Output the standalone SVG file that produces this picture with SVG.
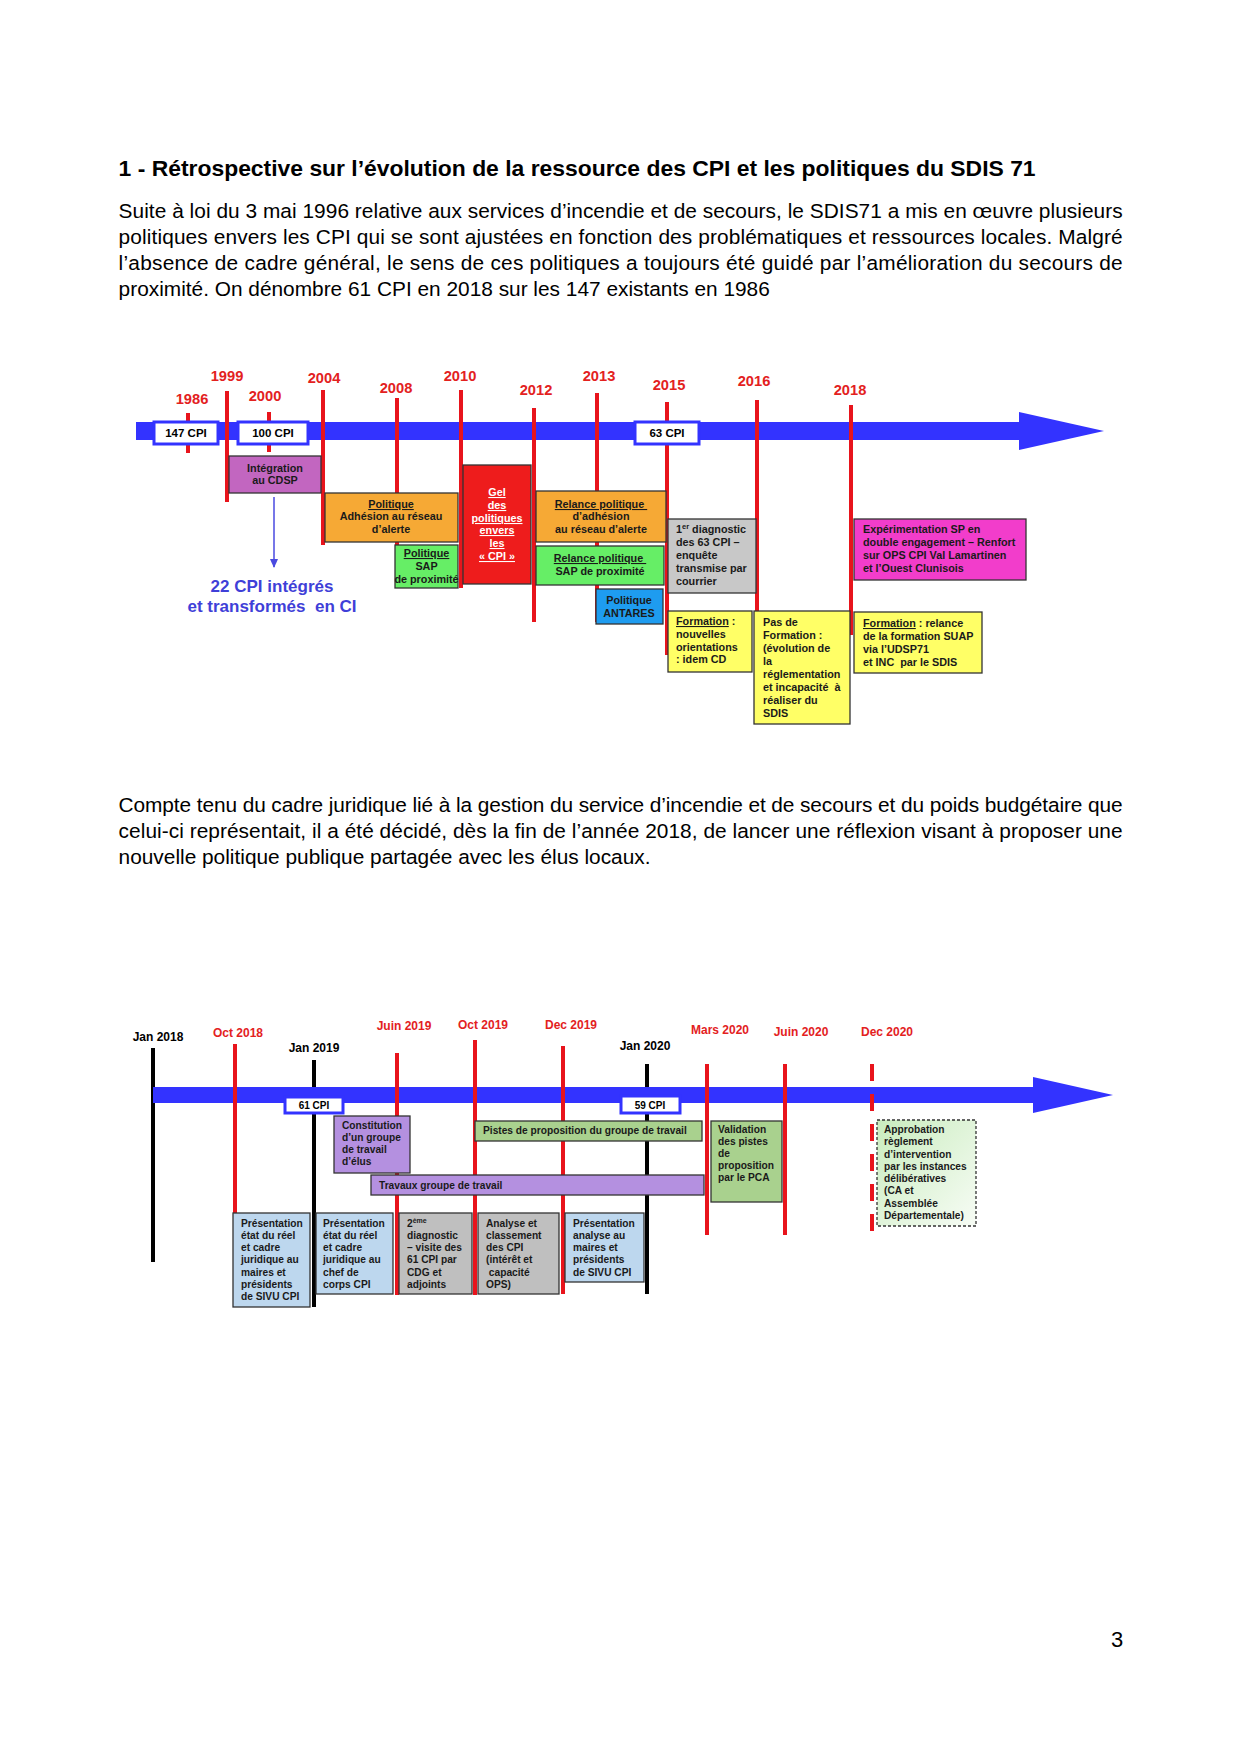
<svg xmlns="http://www.w3.org/2000/svg" width="1241" height="1754" viewBox="0 0 1241 1754">
<style>
text { font-family: "Liberation Sans", Arial, sans-serif; }
.title { font-size: 22.9px; font-weight: bold; fill: #000; }
.body { font-size: 20.85px; fill: #000; }
.yr { font-size: 14.7px; font-weight: bold; fill: #E3211E; text-anchor: middle; }
.bx { font-size: 10.8px; font-weight: bold; fill: #1a1a1a; }
.c { text-anchor: middle; }
.u { text-decoration: underline; }
.red { stroke: #E8141C; stroke-width: 4; fill: none; }
.blk { stroke: #000; stroke-width: 4; fill: none; }
.box { stroke: #333; stroke-width: 1.3; }
.cpi { fill: #fff; stroke: #3333FF; stroke-width: 3; }
.cpit { font-size: 11.5px; font-weight: bold; fill: #000; text-anchor: middle; }
.m2 { font-size: 12px; font-weight: bold; text-anchor: middle; }
.b2 { font-size: 10.2px; font-weight: bold; fill: #1a1a1a; }
.bar { fill: #3333FF; }
</style>
<defs>
<marker id="ah" markerWidth="10" markerHeight="10" refX="8" refY="5" orient="auto" markerUnits="userSpaceOnUse">
<path d="M0,1 L9,5 L0,9 Z" fill="#4A4AE0"/>
</marker>
<linearGradient id="gApp" x1="0" y1="0" x2="1" y2="1">
<stop offset="0" stop-color="#C9ECBE"/>
<stop offset="1" stop-color="#F7FCF5"/>
</linearGradient>
</defs>
<rect x="0" y="0" width="1241" height="1754" fill="#fff"/>

<g id="texts">
<text class="title" x="118.6" y="176" textLength="917" lengthAdjust="spacingAndGlyphs">1 - Rétrospective sur l’évolution de la ressource des CPI et les politiques du SDIS 71</text>
<text class="body" x="118.6" y="218" textLength="1004" lengthAdjust="spacing">Suite à loi du 3 mai 1996 relative aux services d’incendie et de secours, le SDIS71 a mis en œuvre plusieurs</text>
<text class="body" x="118.6" y="244" textLength="1004" lengthAdjust="spacing">politiques envers les CPI qui se sont ajustées en fonction des problématiques et ressources locales. Malgré</text>
<text class="body" x="118.6" y="270" textLength="1004" lengthAdjust="spacing">l’absence de cadre général, le sens de ces politiques a toujours été guidé par l’amélioration du secours de</text>
<text class="body" x="118.6" y="296">proximité. On dénombre 61 CPI en 2018 sur les 147 existants en 1986</text>
<text class="body" x="118.6" y="812" textLength="1004" lengthAdjust="spacing">Compte tenu du cadre juridique lié à la gestion du service d’incendie et de secours et du poids budgétaire que</text>
<text class="body" x="118.6" y="838" textLength="1004" lengthAdjust="spacing">celui-ci représentait, il a été décidé, dès la fin de l’année 2018, de lancer une réflexion visant à proposer une</text>
<text class="body" x="118.6" y="864">nouvelle politique publique partagée avec les élus locaux.</text>
<text x="1117" y="1647" font-size="22" text-anchor="middle" fill="#000">3</text>
</g>

<!-- ===== Timeline 1 ===== -->
<g id="axis1">
<rect class="bar" x="136" y="422" width="884" height="18"/>
<polygon class="bar" points="1019,412 1104,431 1019,450"/>
</g>
<g id="connectors1">
<line class="red" x1="188" y1="413" x2="188" y2="453"/>
<line class="red" x1="227" y1="391" x2="227" y2="502"/>
<line class="red" x1="269" y1="412" x2="269" y2="452"/>
<line class="red" x1="323" y1="390" x2="323" y2="545"/>
<line class="red" x1="397" y1="398" x2="397" y2="560"/>
<line class="red" x1="461" y1="390" x2="461" y2="588"/>
<line class="red" x1="534" y1="408" x2="534" y2="622"/>
<line class="red" x1="597" y1="393" x2="597" y2="622"/>
<line class="red" x1="667" y1="402" x2="667" y2="655"/>
<line class="red" x1="757" y1="400" x2="757" y2="612"/>
<line class="red" x1="851" y1="405" x2="851" y2="635"/>
<line x1="274" y1="497" x2="274" y2="567" stroke="#4A4AE0" stroke-width="1.5" marker-end="url(#ah)"/>
</g>
<g id="years1">
<text class="yr" x="192" y="404">1986</text>
<text class="yr" x="227" y="381">1999</text>
<text class="yr" x="265" y="401">2000</text>
<text class="yr" x="324" y="383">2004</text>
<text class="yr" x="396" y="393">2008</text>
<text class="yr" x="460" y="381">2010</text>
<text class="yr" x="536" y="395">2012</text>
<text class="yr" x="599" y="381">2013</text>
<text class="yr" x="669" y="390">2015</text>
<text class="yr" x="754" y="386">2016</text>
<text class="yr" x="850" y="395">2018</text>
</g>
<g id="cpi147"><rect class="cpi" x="154" y="422" width="64" height="22"/><text class="cpit" x="186" y="437">147 CPI</text></g>
<g id="cpi100"><rect class="cpi" x="238" y="422" width="70" height="22"/><text class="cpit" x="273" y="437">100 CPI</text></g>
<g id="cpi63"><rect class="cpi" x="635" y="422" width="64" height="22"/><text class="cpit" x="667" y="437">63 CPI</text></g>

<g id="integration">
<rect class="box" x="229" y="456" width="92" height="37" fill="#C266C0"/>
<text class="bx c" fill="#2a2a2a"><tspan x="275" y="472">Intégration</tspan><tspan x="275" y="484">au CDSP</tspan></text>
</g>
<g id="ci22">
<text x="272" y="592" font-size="17" font-weight="bold" fill="#3F3FD8" text-anchor="middle">22 CPI intégrés</text>
<text x="272" y="612" font-size="17" font-weight="bold" fill="#3F3FD8" text-anchor="middle" xml:space="preserve">et transformés  en CI</text>
</g>
<g id="adhesion">
<rect class="box" x="325" y="493" width="133" height="49" fill="#F6A935"/>
<text class="bx c"><tspan x="391" y="508" class="u">Politique</tspan><tspan x="391" y="520">Adhésion au réseau</tspan><tspan x="391" y="533">d’alerte</tspan></text>
</g>
<g id="sap">
<rect class="box" x="395" y="545" width="63" height="43" fill="#66EE66"/>
<text class="bx c"><tspan x="426.5" y="557" class="u">Politique</tspan><tspan x="426.5" y="570">SAP</tspan><tspan x="426.5" y="583">de proximité</tspan></text>
</g>
<g id="gel">
<rect class="box" x="463" y="465" width="68" height="119" fill="#EE1C1C"/>
<text class="bx c u" style="fill:#fff"><tspan x="497" y="496">Gel</tspan><tspan x="497" y="509">des</tspan><tspan x="497" y="522">politiques</tspan><tspan x="497" y="534">envers</tspan><tspan x="497" y="547">les</tspan><tspan x="497" y="560">« CPI »</tspan></text>
</g>
<g id="relanceAdh">
<rect class="box" x="536" y="491" width="130" height="51" fill="#F6A935"/>
<text class="bx c"><tspan x="601" y="508" class="u">Relance politique </tspan><tspan x="601" y="520">d’adhésion</tspan><tspan x="601" y="533">au réseau d’alerte</tspan></text>
</g>
<g id="relanceSap">
<rect class="box" x="536" y="546" width="128" height="39" fill="#66EE66"/>
<text class="bx c"><tspan x="600" y="562" class="u">Relance politique </tspan><tspan x="600" y="575">SAP de proximité</tspan></text>
</g>
<g id="antares">
<rect class="box" x="596" y="589" width="67" height="35" fill="#1E9CF0"/>
<text class="bx c"><tspan x="629" y="604">Politique</tspan><tspan x="629" y="617">ANTARES</tspan></text>
</g>
<g id="diag1">
<rect class="box" x="668" y="519" width="88" height="74" fill="#C8C8C8"/>
<text class="bx"><tspan x="676" y="533">1</tspan><tspan dy="-4" font-size="7.5">er</tspan><tspan dy="4"> diagnostic</tspan><tspan x="676" y="546">des 63 CPI –</tspan><tspan x="676" y="559">enquête</tspan><tspan x="676" y="572">transmise par</tspan><tspan x="676" y="585">courrier</tspan></text>
</g>
<g id="formation1">
<rect class="box" x="668" y="611" width="84" height="61" fill="#FFFF66"/>
<text class="bx"><tspan x="676" y="625" class="u">Formation</tspan><tspan> :</tspan><tspan x="676" y="638">nouvelles</tspan><tspan x="676" y="651">orientations</tspan><tspan x="676" y="663">: idem CD</tspan></text>
</g>
<g id="pasFormation">
<rect class="box" x="754" y="611" width="96" height="113" fill="#FFFF66"/>
<text class="bx" xml:space="preserve"><tspan x="763" y="626">Pas de</tspan><tspan x="763" y="639">Formation :</tspan><tspan x="763" y="652">(évolution de</tspan><tspan x="763" y="665">la</tspan><tspan x="763" y="678">réglementation</tspan><tspan x="763" y="691">et incapacité  à</tspan><tspan x="763" y="704">réaliser du</tspan><tspan x="763" y="717">SDIS</tspan></text>
</g>
<g id="experimentation">
<rect class="box" x="854" y="519" width="172" height="61" fill="#F23DCB"/>
<text class="bx"><tspan x="863" y="533">Expérimentation SP en</tspan><tspan x="863" y="546">double engagement – Renfort</tspan><tspan x="863" y="559">sur OPS CPI Val Lamartinen</tspan><tspan x="863" y="572">et l’Ouest Clunisois</tspan></text>
</g>
<g id="formation2">
<rect class="box" x="854" y="612" width="128" height="61" fill="#FFFF66"/>
<text class="bx" xml:space="preserve"><tspan x="863" y="627" class="u">Formation</tspan><tspan> : relance</tspan><tspan x="863" y="640">de la formation SUAP</tspan><tspan x="863" y="653">via l’UDSP71</tspan><tspan x="863" y="666">et INC  par le SDIS</tspan></text>
</g>

<!-- ===== Timeline 2 ===== -->
<g id="connectors2a">
<line class="blk" x1="153" y1="1048" x2="153" y2="1262"/>
<line class="blk" x1="314" y1="1060" x2="314" y2="1307"/>
<line class="blk" x1="647" y1="1064" x2="647" y2="1294"/>
</g>
<g id="axis2">
<rect class="bar" x="153" y="1087" width="881" height="16"/>
<polygon class="bar" points="1033,1077 1113,1095 1033,1113"/>
</g>
<g id="connectors2">
<line class="red" x1="235" y1="1044" x2="235" y2="1213"/>
<line class="red" x1="397" y1="1053" x2="397" y2="1295"/>
<line class="red" x1="475" y1="1040" x2="475" y2="1295"/>
<line class="red" x1="563" y1="1046" x2="563" y2="1294"/>
<line class="red" x1="707" y1="1064" x2="707" y2="1235"/>
<line class="red" x1="785" y1="1064" x2="785" y2="1235"/>
<line class="red" x1="872" y1="1064" x2="872" y2="1235" stroke-dasharray="17 13"/>
</g>
<g id="dates2">
<text class="m2" x="158" y="1041" fill="#000">Jan 2018</text>
<text class="m2" x="238" y="1037" fill="#E3211E">Oct 2018</text>
<text class="m2" x="314" y="1052" fill="#000">Jan 2019</text>
<text class="m2" x="404" y="1030" fill="#E3211E">Juin 2019</text>
<text class="m2" x="483" y="1029" fill="#E3211E">Oct 2019</text>
<text class="m2" x="571" y="1029" fill="#E3211E">Dec 2019</text>
<text class="m2" x="645" y="1050" fill="#000">Jan 2020</text>
<text class="m2" x="720" y="1034" fill="#E3211E">Mars 2020</text>
<text class="m2" x="801" y="1036" fill="#E3211E">Juin 2020</text>
<text class="m2" x="887" y="1036" fill="#E3211E">Dec 2020</text>
</g>
<g id="cpi61"><rect class="cpi" x="285" y="1097" width="58" height="16" stroke-width="2"/><text class="cpit" x="314" y="1109" style="font-size:10px">61 CPI</text></g>
<g id="cpi59"><rect class="cpi" x="621" y="1096" width="59" height="17" stroke-width="2"/><text class="cpit" x="650" y="1109" style="font-size:10px">59 CPI</text></g>

<g id="constitution">
<rect class="box" x="334" y="1116" width="76" height="57" fill="#B490E0"/>
<text class="b2"><tspan x="342" y="1129">Constitution</tspan><tspan x="342" y="1141">d’un groupe</tspan><tspan x="342" y="1153">de travail</tspan><tspan x="342" y="1165">d’élus</tspan></text>
</g>
<g id="travaux">
<rect class="box" x="371" y="1175" width="333" height="20" fill="#B490E0"/>
<text class="b2" x="379" y="1189">Travaux groupe de travail</text>
</g>
<g id="pistes">
<rect class="box" x="475" y="1121" width="227" height="20" fill="#A9D18E"/>
<text class="b2" x="483" y="1134">Pistes de proposition du groupe de travail</text>
</g>
<g id="validation">
<rect class="box" x="711" y="1121" width="71" height="81" fill="#A9D18E"/>
<text class="b2"><tspan x="718" y="1133">Validation</tspan><tspan x="718" y="1145">des pistes</tspan><tspan x="718" y="1157">de</tspan><tspan x="718" y="1169">proposition</tspan><tspan x="718" y="1181">par le PCA</tspan></text>
</g>
<g id="approbation">
<rect x="877" y="1120" width="99" height="106" fill="url(#gApp)" stroke="#333" stroke-width="1.3" stroke-dasharray="3 2"/>
<text class="b2"><tspan x="884" y="1133">Approbation</tspan><tspan x="884" y="1145">règlement</tspan><tspan x="884" y="1158">d’intervention</tspan><tspan x="884" y="1170">par les instances</tspan><tspan x="884" y="1182">délibératives</tspan><tspan x="884" y="1194">(CA et</tspan><tspan x="884" y="1207">Assemblée</tspan><tspan x="884" y="1219">Départementale)</tspan></text>
</g>
<g id="presentation1">
<rect class="box" x="233" y="1213" width="77" height="94" fill="#BDD7EE"/>
<text class="b2"><tspan x="241" y="1227">Présentation</tspan><tspan x="241" y="1239">état du réel</tspan><tspan x="241" y="1251">et cadre</tspan><tspan x="241" y="1263">juridique au</tspan><tspan x="241" y="1276">maires et</tspan><tspan x="241" y="1288">présidents</tspan><tspan x="241" y="1300">de SIVU CPI</tspan></text>
</g>
<g id="presentation2">
<rect class="box" x="316" y="1213" width="77" height="81" fill="#BDD7EE"/>
<text class="b2"><tspan x="323" y="1227">Présentation</tspan><tspan x="323" y="1239">état du réel</tspan><tspan x="323" y="1251">et cadre</tspan><tspan x="323" y="1263">juridique au</tspan><tspan x="323" y="1276">chef de</tspan><tspan x="323" y="1288">corps CPI</tspan></text>
</g>
<g id="diag2">
<rect class="box" x="399" y="1213" width="73" height="81" fill="#BFBFBF"/>
<text class="b2"><tspan x="407" y="1227">2</tspan><tspan dy="-4" font-size="7">ème</tspan><tspan x="407" y="1239">diagnostic</tspan><tspan x="407" y="1251">– visite des</tspan><tspan x="407" y="1263">61 CPI par</tspan><tspan x="407" y="1276">CDG et</tspan><tspan x="407" y="1288">adjoints</tspan></text>
</g>
<g id="analyse">
<rect class="box" x="478" y="1213" width="81" height="81" fill="#BFBFBF"/>
<text class="b2" xml:space="preserve"><tspan x="486" y="1227">Analyse et</tspan><tspan x="486" y="1239">classement</tspan><tspan x="486" y="1251">des CPI</tspan><tspan x="486" y="1263">(intérêt et</tspan><tspan x="486" y="1276"> capacité</tspan><tspan x="486" y="1288">OPS)</tspan></text>
</g>
<g id="presentation3">
<rect class="box" x="565" y="1213" width="79" height="69" fill="#BDD7EE"/>
<text class="b2"><tspan x="573" y="1227">Présentation</tspan><tspan x="573" y="1239">analyse au</tspan><tspan x="573" y="1251">maires et</tspan><tspan x="573" y="1263">présidents</tspan><tspan x="573" y="1276">de SIVU CPI</tspan></text>
</g>
</svg>
